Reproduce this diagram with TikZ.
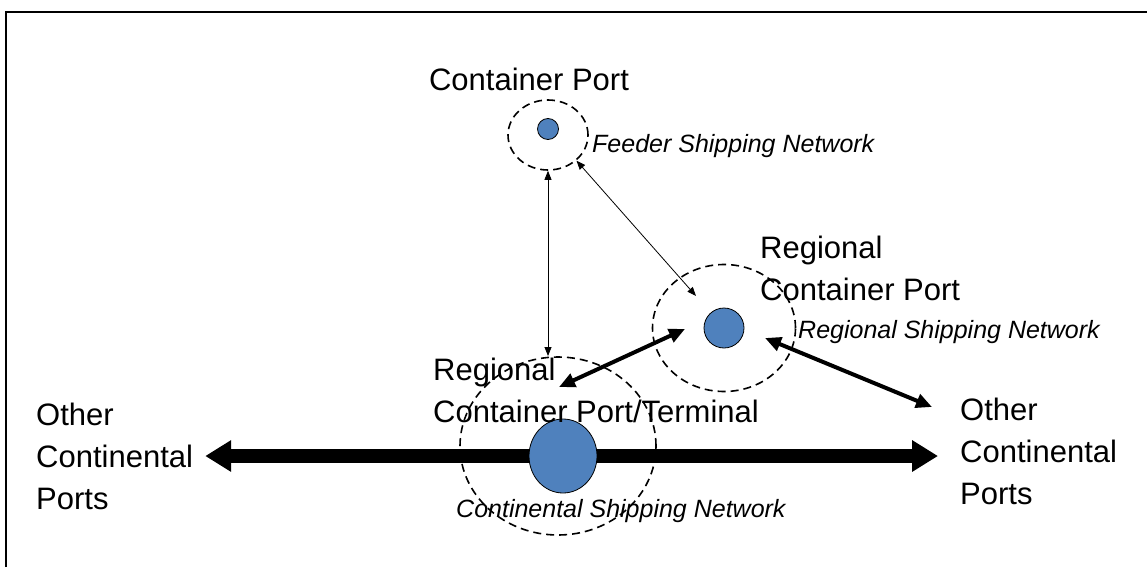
\documentclass[tikz,border=0pt]{standalone}
\usepackage{fontspec}
\setmainfont{Liberation Sans}
\usetikzlibrary{arrows.meta,shapes.geometric}
\definecolor{portblue}{HTML}{4F81BD}

\begin{document}
\begin{tikzpicture}[x=1pt, y=-1pt,
  port/.style={ellipse, draw=black, line width=0.8pt, fill=portblue, inner sep=0pt},
  ring/.style={ellipse, draw=black, dash pattern=on 8pt off 5pt, line width=1.6pt, inner sep=0pt},
  porttxt/.style={font=\fontsize{31}{42}\selectfont, align=left, inner sep=0pt},
  nettxt/.style={font=\fontsize{25}{30}\selectfont\itshape, inner sep=0pt, anchor=base west},
  feedlink/.style={{Triangle[length=9pt,width=7pt]}-{Triangle[length=9pt,width=7pt]}, line width=0.8pt},
  reglink/.style={{Triangle[length=16pt,width=14pt]}-{Triangle[length=16pt,width=14pt]}, line width=4pt},
  contlink/.style={{Triangle[length=26pt,width=30pt]}-{Triangle[length=26pt,width=30pt]}, line width=14pt}]

  \useasboundingbox (0,0) rectangle (1147,567);

  % frame
  \draw[line width=2pt] (6,567) -- (6,12) -- (1147,12);

  % other continental ports
  \node[porttxt, anchor=west] (lother) at (36,456) {Other\\Continental\\Ports};
  \node[porttxt, anchor=west] (rother) at (960,451) {Other\\Continental\\Ports};

  % continental shipping network
  \draw[contlink, shorten <=12pt, shorten >=22pt] (lother.east) -- (lother.east -| rother.west);
  \node[port, minimum width=68pt, minimum height=74pt] (cdot) at (563,456) {};
  \node[ring, minimum width=196pt, minimum height=178pt] (cring) at (558,446) {};
  \node[porttxt, anchor=west] (ctxt) at (433,390) {Regional\\Container Port/Terminal};
  \node[nettxt] (cnet) at (456,517) {Continental Shipping Network};

  % regional shipping network
  \node[port, minimum size=40pt] (rdot) at (724,328) {};
  \node[ring, minimum width=143pt, minimum height=127pt] (rring) at (724,328) {};
  \node[porttxt, anchor=west] (rtxt) at (760,268) {Regional\\Container Port};
  \node[nettxt] (rnet) at (798,338) {Regional Shipping Network};

  % feeder shipping network
  \node[port, minimum size=21pt] (fdot) at (548,129) {};
  \node[ring, minimum width=80pt, minimum height=70pt] (fring) at (548,135) {};
  \node[porttxt, anchor=base] (ftxt) at (529,91) {Container Port};
  \node[nettxt] (fnet) at (592,152) {Feeder Shipping Network};

  % links
  \coordinate (vtip) at (548,356);
  \coordinate (dtip) at (696,296);
  \draw[feedlink] (fring.south) -- (vtip);
  \draw[feedlink] (fring.-42) -- (dtip);

  \coordinate (ctip) at (559,387);
  \coordinate (rtipa) at (685,329);
  \coordinate (rtipb) at (765,338);
  \coordinate (otip) at (932,407);
  \draw[reglink] (ctip) -- (rtipa);
  \draw[reglink] (rtipb) -- (otip);

\end{tikzpicture}
\end{document}
